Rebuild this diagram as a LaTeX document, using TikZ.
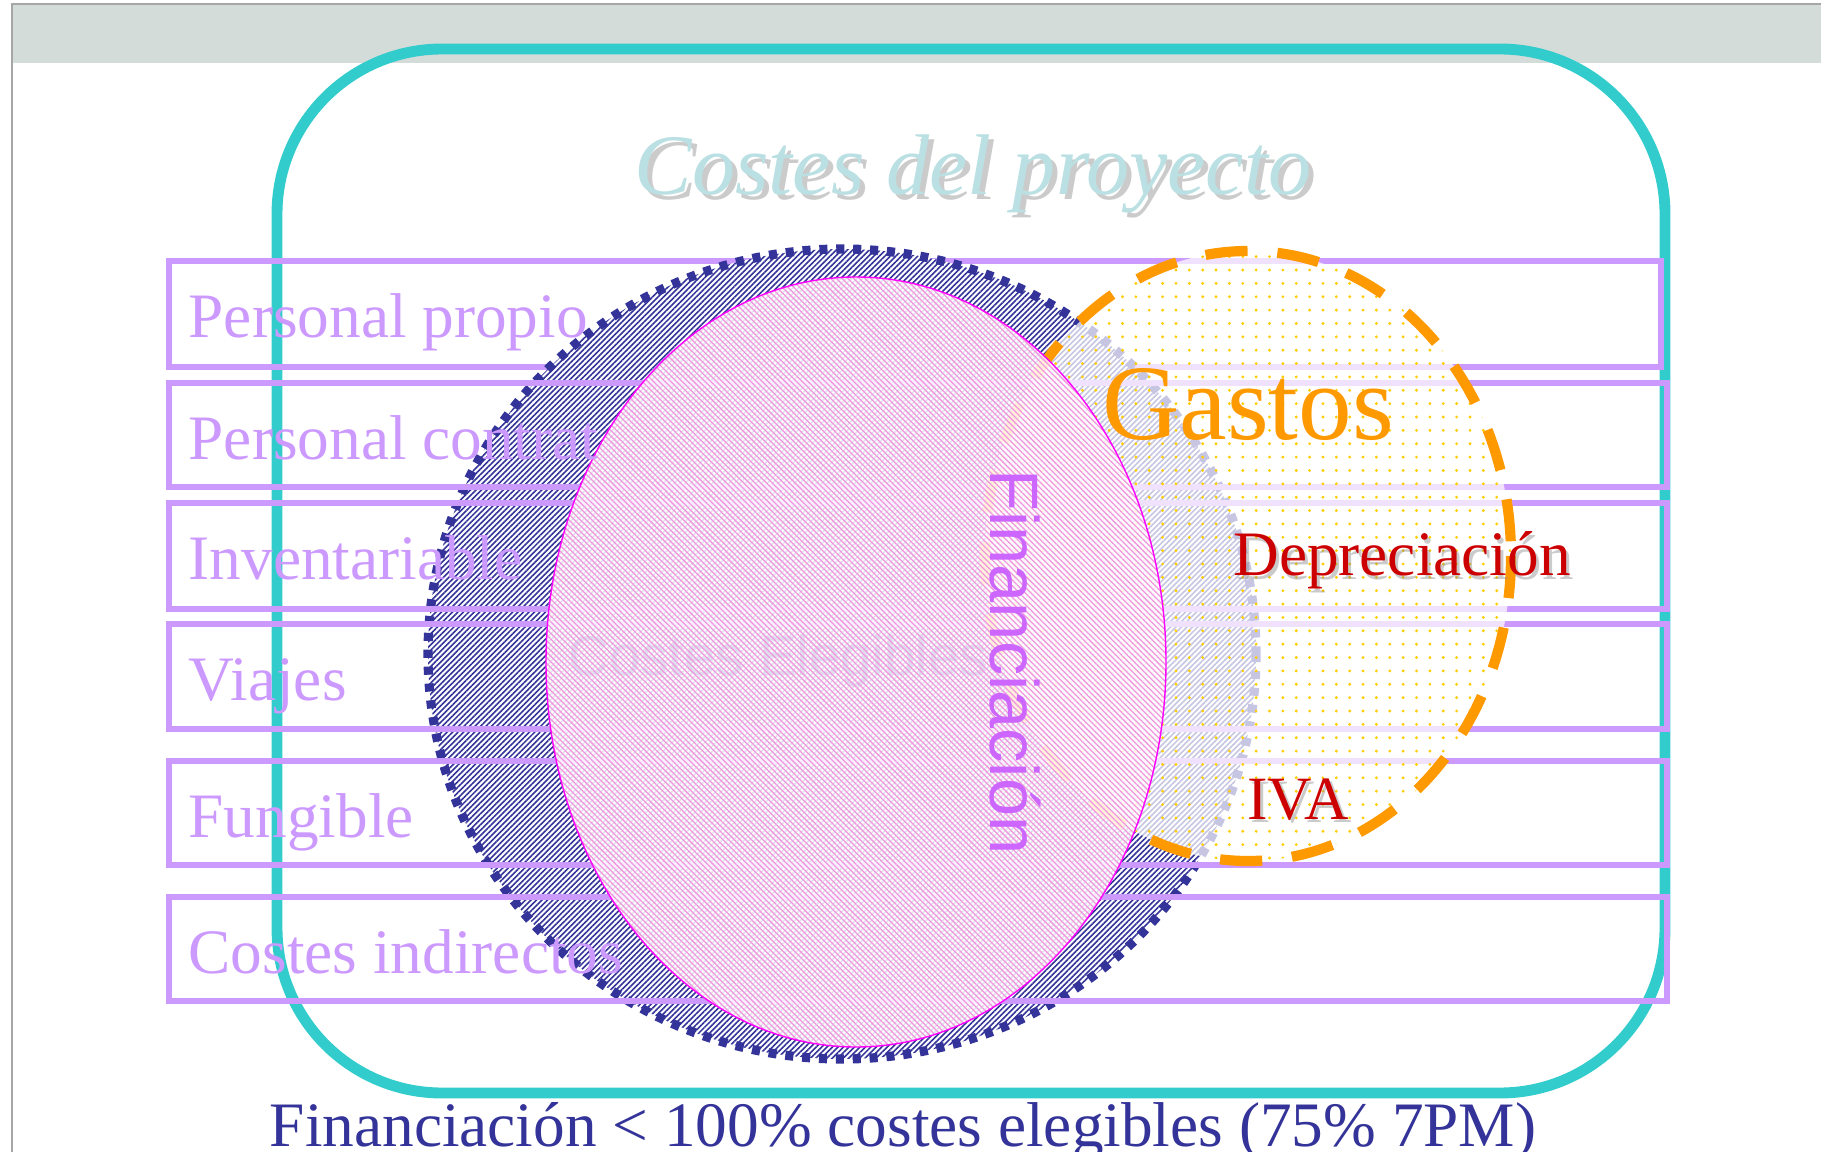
\documentclass[tikz,border=0pt]{standalone}
\usepackage{fontspec}
\setmainfont{Liberation Serif}
\newfontfamily\arialfont{Liberation Sans}
\usetikzlibrary{patterns.meta}

\definecolor{bargrey}{RGB}{211,220,217}
\definecolor{framegrey}{RGB}{166,166,166}
\definecolor{boxteal}{RGB}{51,204,204}
\definecolor{rowpurple}{RGB}{204,153,255}
\definecolor{navyblue}{RGB}{51,51,153}
\definecolor{gastosorange}{RGB}{255,153,0}
\definecolor{dotyellow}{RGB}{255,204,0}
\definecolor{pinkhatch}{RGB}{242,150,222}
\definecolor{pinkedge}{RGB}{255,0,255}
\definecolor{depred}{RGB}{204,0,0}
\definecolor{titleteal}{RGB}{187,224,227}
\definecolor{elegrey}{RGB}{222,222,238}
\definecolor{finviolet}{RGB}{204,102,255}

\begin{document}
\begin{tikzpicture}[x=0.01cm, y=-0.01cm,
  costrow/.style={draw=rowpurple, line width=1.6pt},
  rowlabel/.style={anchor=base west, text=rowpurple, inner sep=0pt, font=\fontsize{18}{18}\selectfont},
  redlabel/.style={anchor=base, text=depred, inner sep=0pt},
  shadowlabel/.style={anchor=base, text=black!45, opacity=.45, inner sep=0pt}]
  \useasboundingbox (0,0) rectangle (1821,1152);
  % slide frame
  \fill[bargrey] (12,4) rectangle (1821,63);
  \draw[framegrey, line width=.6pt] (12,1152) -- (12,4) -- (1821,4);
  \draw[boxteal, line width=3.1pt, rounded corners=1.65cm] (277,49) rectangle (1665,1093);
  % first row lies under the big ellipse
  \draw[costrow] (169,261) rectangle (1661,367);
  % costes elegibles (outer)
  \path[preaction={fill=white}, pattern={Lines[angle=45,distance=1.1pt,line width=.45pt]}, pattern color=navyblue]
    (842,654) ellipse [x radius=414, y radius=405];
  \draw[navyblue, line width=2.6pt, dash pattern=on 2.3pt off 2.5pt] (842,654) ellipse [x radius=414, y radius=405];
  % other rows
  \draw[costrow] (169,383) rectangle (1667,487);
  \draw[costrow] (169,503) rectangle (1667,609);
  \draw[costrow] (169,624) rectangle (1667,729);
  \draw[costrow] (169,761) rectangle (1667,865);
  \draw[costrow] (169,897) rectangle (1667,1001);
  % gastos
  \path[fill=white, fill opacity=.72] (1248,556) ellipse [x radius=263, y radius=305];
  \path[pattern={Dots[distance=3.8pt,radius=.45pt]}, pattern color=dotyellow] (1248,556) ellipse [x radius=263, y radius=305];
  \draw[gastosorange, line width=2.9pt, dash pattern=on 12pt off 8.5pt] (1248,556) ellipse [x radius=263, y radius=305];
  % financiacion
  \path[fill=white, fill opacity=.86] (856,662) ellipse [x radius=310, y radius=385];
  \node[anchor=base, text=elegrey, inner sep=0pt, font=\arialfont\fontsize{16}{16}\selectfont] (elegibles) at (778,675) {Costes Elegibles};
  \draw[pinkedge, line width=.4pt, pattern={Lines[angle=-45,distance=1.15pt,line width=.36pt]}, pattern color=pinkhatch]
    (856,662) ellipse [x radius=310, y radius=385];

  % labels
  \node[shadowlabel, font=\itshape\fontsize{24.5}{24.5}\selectfont] (titleshadow) at (978,200) {Costes del proyecto};
  \node[anchor=base, text=titleteal, inner sep=0pt, font=\itshape\fontsize{24.5}{24.5}\selectfont] (title) at (973,195) {Costes del proyecto};
  \node[rowlabel] (propio) at (188,338) {Personal propio};
  \node[rowlabel] (contrat) at (188,459) {Personal contrat};
  \node[rowlabel] (inventariable) at (188,580) {Inventariable};
  \node[rowlabel] (viajes) at (188,700) {Viajes};
  \node[rowlabel] (fungible) at (188,837) {Fungible};
  \node[rowlabel] (indirectos) at (188,973) {Costes indirectos};
  \node[anchor=base, rotate=-90, text=finviolet, inner sep=0pt, font=\arialfont\fontsize{19.5}{19.5}\selectfont] (financiacion) at (990,662) {Financiación};
  \node[anchor=base, text=gastosorange, inner sep=0pt, font=\fontsize{30.5}{30.5}\selectfont] (gastos) at (1248,440) {Gastos};
  \node[shadowlabel, font=\fontsize{18}{18}\selectfont] (deprshadow) at (1405,579) {Depreciación};
  \node[redlabel, font=\fontsize{18}{18}\selectfont] (depreciacion) at (1402,576) {Depreciación};
  \node[shadowlabel, font=\fontsize{17.5}{17.5}\selectfont] (ivashadow) at (1301,822) {IVA};
  \node[redlabel, font=\fontsize{17.5}{17.5}\selectfont] (iva) at (1298,819) {IVA};
  \node[anchor=base, text=navyblue, inner sep=0pt, font=\fontsize{18}{18}\selectfont] (nota) at (903,1146) {Financiación < 100\% costes elegibles (75\% 7PM)};
\end{tikzpicture}
\end{document}
